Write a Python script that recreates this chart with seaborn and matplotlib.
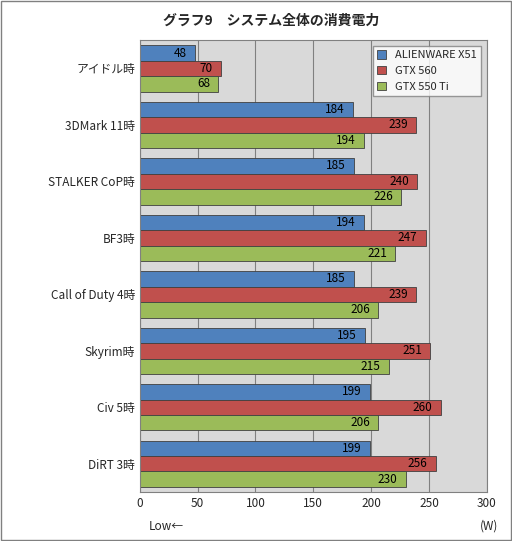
import matplotlib
matplotlib.use("Agg")
import matplotlib.pyplot as plt
import seaborn as sns
import pandas as pd

categories = ["アイドル時", "3DMark 11時", "STALKER CoP時", "BF3時", "Call of Duty 4時", "Skyrim時", "Civ 5時", "DiRT 3時"]
series = ["ALIENWARE X51", "GTX 560", "GTX 550 Ti"]
alienware = [48, 184, 185, 194, 185, 195, 199, 199]
gtx560 = [70, 239, 240, 247, 239, 251, 260, 256]
gtx550ti = [68, 194, 226, 221, 206, 215, 206, 230]
colors = ["#4f81bd", "#c0504d", "#9bbb59"]

rows = []
for s, vals in zip(series, [alienware, gtx560, gtx550ti]):
    for c, v in zip(categories, vals):
        rows.append({"cat": c, "series": s, "val": v})
df = pd.DataFrame(rows)

sns.set_style("white")
plt.rcParams['font.family'] = ['Noto Sans CJK JP', 'DejaVu Sans']

fig = plt.figure(figsize=(5.12, 5.41), dpi=100)
fig.patch.set_facecolor("white")
ax = fig.add_axes([0.273, 0.0906, 0.678, 0.835])
ax.set_facecolor("#d9d9d9")
sns.barplot(data=df, y="cat", x="val", hue="series", palette=colors, orient="h",
            width=0.82, edgecolor="#404040", linewidth=0.6, ax=ax, saturation=1)
for cont in ax.containers:
    ax.bar_label(cont, padding=-6, fontsize=8.5, color="black", label_type="edge",
                 labels=[f"{int(v)}" for v in cont.datavalues])
for t in ax.texts:
    t.set_ha("right")
ax.set_xlim(0, 300)
ax.set_xticks(range(0, 301, 50))
ax.xaxis.grid(True, color="#808080", linewidth=0.8)
ax.set_axisbelow(True)
ax.set_xlabel("")
ax.set_ylabel("")
ax.tick_params(axis="both", labelsize=8.5, length=0)
for sp in ax.spines.values():
    sp.set_color("#808080")
leg = ax.legend(loc="upper right", fontsize=8, frameon=True, fancybox=False,
                edgecolor="#808080", borderpad=0.4, handlelength=0.8, handleheight=0.8)
leg.get_frame().set_facecolor("white")
fig.text(0.53, 0.962, "グラフ9　システム全体の消費電力", ha="center", va="center",
         fontsize=10, fontweight="bold")
fig.text(0.29, 0.027, "Low←", ha="left", va="center", fontsize=8.5)
fig.text(0.955, 0.027, "(W)", ha="center", va="center", fontsize=8.5)
fig.add_artist(plt.Rectangle((0.002, 0.002), 0.996, 0.996, transform=fig.transFigure,
                             fill=False, edgecolor="#808080", linewidth=1))
fig.savefig("out.png", dpi=100)
